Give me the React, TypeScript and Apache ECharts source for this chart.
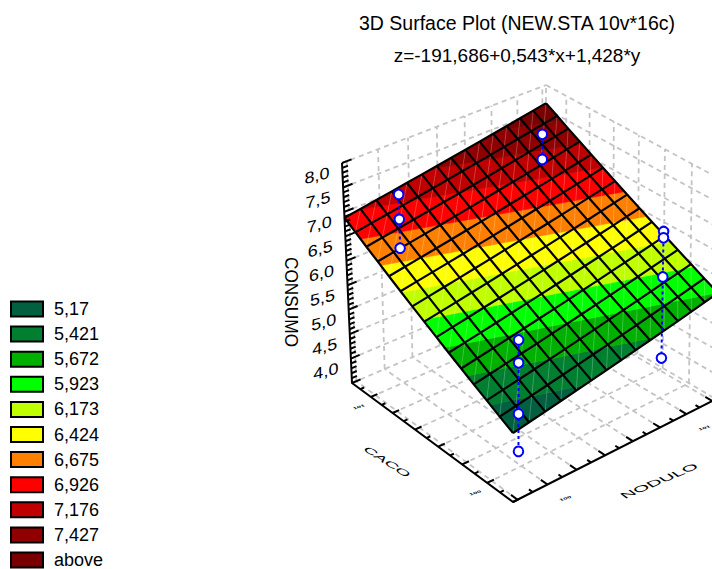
import React, { useEffect, useRef } from "react";
import * as echarts from "echarts";

const FONT = "'Liberation Sans', Arial, sans-serif";

// --- data ---
const titleText = "3D Surface Plot (NEW.STA 10v*16c)";
const subtitleText = "z=-191,686+0,543*x+1,428*y";
const legendLabels = ["5,17", "5,421", "5,672", "5,923", "6,173", "6,424", "6,675", "6,926", "7,176", "7,427", "above"];
const bandUpper = [5.17, 5.421, 5.672, 5.923, 6.173, 6.424, 6.675, 6.926, 7.176, 7.427, 99];
const bandColors = ["#006040", "#007f30", "#00b000", "#00ff00", "#c0ff00", "#ffff00", "#ff8000", "#ff0000", "#c00000", "#900000", "#780000"];

// NODULO (x) and CACO (y) positions of the mesh
const meshX = [99.77, 99.874, 99.979, 100.083, 100.187, 100.291, 100.396, 100.5, 100.604, 100.709, 100.813, 100.917, 101.021, 101.126, 101.23];
const meshY = [99.8, 99.899, 99.997, 100.096, 100.194, 100.293, 100.391, 100.49, 100.589, 100.687, 100.786, 100.884, 100.983, 101.081, 101.18];
// CONSUMO on the surface: rows follow meshY, columns follow meshX
const meshZ = [
  [4.93, 4.983, 5.036, 5.089, 5.141, 5.194, 5.247, 5.3, 5.353, 5.406, 5.459, 5.511, 5.564, 5.617, 5.67],
  [5.069, 5.122, 5.175, 5.228, 5.28, 5.333, 5.386, 5.439, 5.492, 5.545, 5.598, 5.65, 5.703, 5.756, 5.809],
  [5.209, 5.262, 5.315, 5.368, 5.42, 5.473, 5.526, 5.579, 5.632, 5.685, 5.738, 5.79, 5.843, 5.896, 5.949],
  [5.348, 5.401, 5.454, 5.507, 5.559, 5.612, 5.665, 5.718, 5.771, 5.824, 5.877, 5.929, 5.982, 6.035, 6.088],
  [5.487, 5.54, 5.593, 5.646, 5.698, 5.751, 5.804, 5.857, 5.91, 5.963, 6.016, 6.068, 6.121, 6.174, 6.227],
  [5.626, 5.679, 5.732, 5.785, 5.837, 5.89, 5.943, 5.996, 6.049, 6.102, 6.155, 6.207, 6.26, 6.313, 6.366],
  [5.766, 5.819, 5.872, 5.925, 5.977, 6.03, 6.083, 6.136, 6.189, 6.242, 6.295, 6.347, 6.4, 6.453, 6.506],
  [5.905, 5.958, 6.011, 6.064, 6.116, 6.169, 6.222, 6.275, 6.328, 6.381, 6.434, 6.486, 6.539, 6.592, 6.645],
  [6.044, 6.097, 6.15, 6.203, 6.255, 6.308, 6.361, 6.414, 6.467, 6.52, 6.573, 6.625, 6.678, 6.731, 6.784],
  [6.184, 6.237, 6.29, 6.343, 6.395, 6.448, 6.501, 6.554, 6.607, 6.66, 6.713, 6.765, 6.818, 6.871, 6.924],
  [6.323, 6.376, 6.429, 6.482, 6.534, 6.587, 6.64, 6.693, 6.746, 6.799, 6.852, 6.904, 6.957, 7.01, 7.063],
  [6.462, 6.515, 6.568, 6.621, 6.673, 6.726, 6.779, 6.832, 6.885, 6.938, 6.991, 7.043, 7.096, 7.149, 7.202],
  [6.601, 6.654, 6.707, 6.76, 6.812, 6.865, 6.918, 6.971, 7.024, 7.077, 7.13, 7.182, 7.235, 7.288, 7.341],
  [6.741, 6.794, 6.847, 6.9, 6.952, 7.005, 7.058, 7.111, 7.164, 7.217, 7.27, 7.322, 7.375, 7.428, 7.481],
  [6.88, 6.933, 6.986, 7.039, 7.091, 7.144, 7.197, 7.25, 7.303, 7.356, 7.409, 7.461, 7.514, 7.567, 7.62],
];

// observed points
const pointX = [99.98, 99.98, 99.98, 99.98, 100, 100, 100, 101.01, 101.01, 101.01, 101.01, 101.01, 101.01];
const pointY = [100, 100, 100, 100, 101, 101, 101, 100.97, 100.97, 100, 100, 100, 100];
const pointZ = [6.12, 5.65, 4.6, 3.83, 7.35, 6.84, 6.25, 7.47, 6.95, 6.89, 6.76, 5.96, 4.3];
const stemRanges = [[0, 3], [4, 6], [7, 8], [9, 12]];

const xTicks = [99.8, 99.9, 100, 100.1, 100.2, 100.3, 100.4, 100.5, 100.6, 100.7, 100.8, 100.9, 101, 101.1, 101.2];
const yTicks = [99.8, 99.9, 100, 100.1, 100.2, 100.3, 100.4, 100.5, 100.6, 100.7, 100.8, 100.9, 101, 101.1];
const zMajor = [3.5, 4, 4.5, 5, 5.5, 6, 6.5, 7, 7.5, 8];
const zTickLabels = ["4,0", "4,5", "5,0", "5,5", "6,0", "6,5", "7,0", "7,5", "8,0"];
const zLabelValues = [4, 4.5, 5, 5.5, 6, 6.5, 7, 7.5, 8];
const xTickLabels = ["100", "101"];
const xLabelValues = [100, 101];
const yTickLabels = ["100", "101"];
const yLabelValues = [100, 101];

// --- projection of the 3D box on the page ---
const X_RANGE = [99.77, 101.23];
const Y_RANGE = [99.8, 101.18];
const Z_RANGE = [3.5, 8];
type P = [number, number];
const floorQuad: P[] = [[513, 502], [716, 399], [546, 300], [352, 383]];
const topQuad: P[] = [[513, 285], [720, 179], [546, 85], [342, 163]];

function homography(q: P[]) {
  const [[x0, y0], [x1, y1], [x2, y2], [x3, y3]] = q;
  const sx = x0 - x1 + x2 - x3, sy = y0 - y1 + y2 - y3;
  const dx1 = x1 - x2, dx2 = x3 - x2, dy1 = y1 - y2, dy2 = y3 - y2;
  const det = dx1 * dy2 - dx2 * dy1;
  const g = (sx * dy2 - dx2 * sy) / det, h = (dx1 * sy - sx * dy1) / det;
  const a = x1 - x0 + g * x1, b = x3 - x0 + h * x3;
  const d = y1 - y0 + g * y1, e = y3 - y0 + h * y3;
  return (u: number, v: number): P => {
    const w = g * u + h * v + 1;
    return [(a * u + b * v + x0) / w, (d * u + e * v + y0) / w];
  };
}
const floorMap = homography(floorQuad);
const topMap = homography(topQuad);
function project(x: number, y: number, z: number): P {
  const u = (x - X_RANGE[0]) / (X_RANGE[1] - X_RANGE[0]);
  const v = (y - Y_RANGE[0]) / (Y_RANGE[1] - Y_RANGE[0]);
  const k = (z - Z_RANGE[0]) / (Z_RANGE[1] - Z_RANGE[0]);
  const f = floorMap(u, v), t = topMap(u, v);
  return [f[0] + k * (t[0] - f[0]), f[1] + k * (t[1] - f[1])];
}

// --- helpers ---
type V3 = [number, number, number];
function clipBand(poly: V3[], level: number, keepAbove: boolean): V3[] {
  const out: V3[] = [];
  for (let i = 0; i < poly.length; i++) {
    const a = poly[i], b = poly[(i + 1) % poly.length];
    const ia = keepAbove ? a[2] >= level : a[2] <= level;
    const ib = keepAbove ? b[2] >= level : b[2] <= level;
    if (ia) out.push(a);
    if (ia !== ib) {
      const t = (level - a[2]) / (b[2] - a[2]);
      out.push([a[0] + t * (b[0] - a[0]), a[1] + t * (b[1] - a[1]), level]);
    }
  }
  return out;
}

const triangles: V3[][] = [];
for (let j = 0; j < meshY.length - 1; j++) {
  for (let i = 0; i < meshX.length - 1; i++) {
    const c = (a: number, b: number): V3 => [meshX[a], meshY[b], meshZ[b][a]];
    triangles.push([c(i, j), c(i + 1, j), c(i + 1, j + 1)]);
    triangles.push([c(i, j), c(i + 1, j + 1), c(i, j + 1)]);
  }
}

function bandSeries(name: string, idx: number) {
  const hi = bandUpper[idx];
  const lo = idx === 0 ? -99 : bandUpper[idx - 1];
  const color = bandColors[idx];
  const polys: P[][] = [];
  triangles.forEach((t) => {
    const c = clipBand(clipBand(t, lo, true), hi, false);
    if (c.length >= 3) polys.push(c.map((p) => project(p[0], p[1], p[2])));
  });
  return {
    type: "custom", name, coordinateSystem: "none", silent: true, progressive: 0,
    itemStyle: { color },
    data: polys.map((_, i) => i),
    renderItem: (params: any) => ({
      type: "polygon",
      shape: { points: polys[params.dataIndex] },
      style: { fill: color, stroke: color, lineWidth: 0.6 },
    }),
  };
}

function lineSeries(name: string, lines: V3[][], style: any) {
  return {
    type: "custom", name, coordinateSystem: "none", silent: true, progressive: 0,
    data: lines.map((_, i) => i),
    renderItem: (params: any) => ({
      type: "polyline",
      shape: { points: lines[params.dataIndex].map((p) => project(p[0], p[1], p[2])) },
      style: { fill: "none", lineCap: "butt", lineJoin: "round", ...style },
    }),
  };
}

// a text under a free 2x2 matrix: columns are the page vectors of the text's x and y axes
function shearedText(text: string, x: number, y: number, xv: P, yv: P, fontSize: number, fontWeight = "normal") {
  const [a, b] = xv, [c, d] = yv;
  const E = (a + d) / 2, F = (a - d) / 2, G = (b + c) / 2, H = (b - c) / 2;
  const Q = Math.hypot(E, H), R = Math.hypot(F, G);
  const a1 = Math.atan2(G, F), a2 = Math.atan2(H, E);
  const theta = (a2 - a1) / 2, phi = (a2 + a1) / 2;
  return {
    type: "group", x, y, rotation: -phi,
    children: [{
      type: "group", scaleX: Q + R, scaleY: Q - R,
      children: [{
        type: "text", rotation: -theta,
        style: { text, fill: "#000", fontFamily: FONT, fontSize, fontWeight, textAlign: "center", textVerticalAlign: "middle" },
      }],
    }],
  };
}

function buildOption() {
  const [x0, x1] = X_RANGE, [y0, y1] = Y_RANGE, [z0, z1] = Z_RANGE;
  const xGridTicks = xTicks.filter((_, i) => i % 2 === 0);
  const yGridTicks = yTicks.filter((_, i) => i % 2 === 0);

  const grid: V3[][] = [];
  zMajor.forEach((z) => {
    grid.push([[x0, y1, z], [x1, y1, z]]);
    grid.push([[x1, y1, z], [x1, y0, z]]);
  });
  xGridTicks.forEach((x) => {
    grid.push([[x, y1, z0], [x, y1, z1]]);
    grid.push([[x, y0, z0], [x, y1, z0]]);
  });
  yGridTicks.forEach((y) => {
    grid.push([[x1, y, z0], [x1, y, z1]]);
    grid.push([[x0, y, z0], [x1, y, z0]]);
  });
  grid.push([[x1, y1, z0], [x1, y1, z1]]);

  const diagonals: V3[][] = [];
  for (let j = 0; j < meshY.length - 1; j++) {
    for (let i = 0; i < meshX.length - 1; i++) {
      diagonals.push([[meshX[i], meshY[j], meshZ[j][i]], [meshX[i + 1], meshY[j + 1], meshZ[j + 1][i + 1]]]);
    }
  }
  const mesh: V3[][] = [];
  meshY.forEach((y, j) => mesh.push(meshX.map((x, i) => [x, y, meshZ[j][i]] as V3)));
  meshX.forEach((x, i) => mesh.push(meshY.map((y, j) => [x, y, meshZ[j][i]] as V3)));

  const axes: V3[][] = [
    [[x0, y1, z1], [x0, y1, z0], [x0, y0, z0], [x1, y0, z0]],
  ];
  xTicks.forEach((x, i) => axes.push([[x, y0, z0], [x, y0 + (i % 2 === 0 ? 0.05 : 0.028), z0]]));
  yTicks.forEach((y, i) => axes.push([[x0, y, z0], [x0 + (i % 2 === 0 ? 0.045 : 0.026), y, z0]]));
  for (let k = 0; k <= 45; k++) {
    const z = z0 + k * 0.1;
    axes.push([[x0, y1, z], [x0 + (k % 5 === 0 ? 0.06 : 0.036), y1, z]]);
  }

  const stems: V3[][] = stemRanges.map(([a, b]) => [
    [pointX[a], pointY[a], pointZ[a]],
    [pointX[b], pointY[b], pointZ[b]],
  ]);

  const texts: any[] = [];
  zTickLabels.forEach((t, i) => {
    const p = project(x0, y1, zLabelValues[i]);
    texts.push(shearedText(t, p[0] - 25, p[1] + 12.5, [1, -0.26], [0, 0.9], 18));
  });
  xTickLabels.forEach((t, i) => {
    const p = project(xLabelValues[i], y0, z0);
    texts.push(shearedText(t, p[0] + 18, p[1] + 14, [0.75, -0.25], [0.3, 0.3], 9, "bold"));
  });
  yTickLabels.forEach((t, i) => {
    const p = project(x0, yLabelValues[i], z0);
    texts.push(shearedText(t, p[0] - 12, p[1] + 10, [0.75, -0.25], [0.3, 0.3], 9, "bold"));
  });
  texts.push(shearedText("CONSUMO", 291, 302, [0, 0.96], [-1, 0], 18));
  texts.push(shearedText("CACO", 387, 462, [0.84, 0.54], [-0.53, 0.27], 18));
  texts.push(shearedText("NODULO", 659, 481, [0.97, -0.41], [0.5, 0.37], 18));

  return {
    animation: false,
    title: [
      { text: titleText, left: 512, top: 8, textAlign: "center", textStyle: { fontFamily: FONT, fontSize: 19.5, fontWeight: "normal", color: "#000" } },
      { text: subtitleText, left: 512, top: 41, textAlign: "center", textStyle: { fontFamily: FONT, fontSize: 19, fontWeight: "normal", color: "#000" } },
    ],
    legend: {
      data: legendLabels, orient: "vertical", left: 10, top: 300, height: 400, padding: 0, selectedMode: false,
      icon: "rect", itemWidth: 32, itemHeight: 15, itemGap: 7.1,
      itemStyle: { borderColor: "#000", borderWidth: 2 },
      textStyle: { fontFamily: FONT, fontSize: 18, color: "#000", padding: [0, 0, 0, 6], lineHeight: 17 },
    },
    series: [
      lineSeries("wallGrid", grid, { stroke: "#c4c4c4", lineWidth: 1.8, lineDash: [5, 4] }),
      ...legendLabels.map((n, i) => bandSeries(n, i)),
      lineSeries("triangleEdges", diagonals, { stroke: "rgba(255,255,255,0.25)", lineWidth: 0.8 }),
      lineSeries("mesh", mesh, { stroke: "#000", lineWidth: 2.2 }),
      lineSeries("axes", axes, { stroke: "#000", lineWidth: 2 }),
      lineSeries("stems", stems, { stroke: "#0000ff", lineWidth: 2, lineDash: [3, 3] }),
      {
        type: "custom", name: "points", coordinateSystem: "none", silent: true, progressive: 0,
        data: pointZ.map((z, i) => [pointX[i], pointY[i], z]),
        renderItem: (_: any, api: any) => {
          const p = project(api.value(0), api.value(1), api.value(2));
          return { type: "circle", shape: { cx: p[0], cy: p[1], r: 4.8 }, style: { fill: "#fff", stroke: "#0000ff", lineWidth: 2 } };
        },
      },
      {
        type: "custom", name: "axisTexts", coordinateSystem: "none", silent: true, progressive: 0,
        data: texts.map((_, i) => i),
        renderItem: (params: any) => texts[params.dataIndex],
      },
    ],
  };
}

export default function App() {
  const ref = useRef<HTMLDivElement>(null);
  useEffect(() => {
    const chart = echarts.init(ref.current!, undefined, { renderer: "svg", width: 712, height: 569 });
    chart.setOption(buildOption() as any);
    return () => chart.dispose();
  }, []);
  return <div ref={ref} style={{ position: "fixed", left: 0, top: 0, width: 712, height: 569, background: "#fff" }} />;
}
